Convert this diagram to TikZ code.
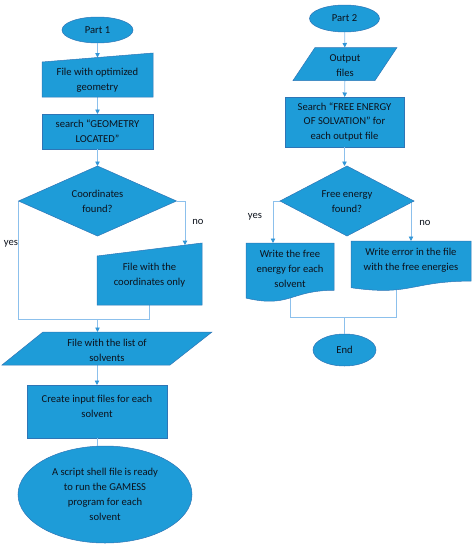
\documentclass[tikz,border=0pt]{standalone}
\usepackage{fontspec}
\setmainfont{Carlito}
\usetikzlibrary{shapes.geometric,arrows.meta,calc}
\definecolor{fillc}{RGB}{30,156,216}
\definecolor{edgec}{RGB}{46,117,182}
\definecolor{linec}{RGB}{140,192,236}
\definecolor{arrc}{RGB}{50,150,215}
\definecolor{txtc}{RGB}{12,18,28}
\begin{document}
\begin{tikzpicture}[x=1pt,y=-1pt,
  shp/.style={fill=fillc,draw=edgec,line width=0.5pt},
  txt/.style={font=\fontsize{10.6}{14.8}\selectfont,text=txtc,align=center,inner sep=0pt},
  ell/.style={shp,ellipse,inner sep=0pt,outer sep=0pt,txt},
  rbox/.style={shp,rectangle,inner sep=0pt,outer sep=0pt,txt},
  hold/.style={rectangle,inner sep=0pt,outer sep=0pt},
  conn/.style={draw=linec,line width=0.8pt},
  arr/.style={conn,-{Triangle[length=4.5pt,width=4.5pt,color=arrc]}},
  lbl/.style={font=\fontsize{10.6}{12}\selectfont,text=txtc,inner sep=0pt}]
\useasboundingbox (0,0) rectangle (474,547);

% ---------- left column: shapes (placeholders and filled nodes)
\node[ell,minimum width=71pt,minimum height=26pt] (p1) at (97.5,30) {Part 1};
\node[hold,minimum width=111pt,minimum height=44pt] (fog) at (97.5,75) {};
\node[rbox,minimum width=111pt,minimum height=35pt] (s1) at (97.5,131.5) {search “GEOMETRY\\LOCATED”};
\node[hold,minimum width=158pt,minimum height=70pt] (cf) at (97.5,201) {};
\node[hold,minimum width=105pt,minimum height=62pt] (fc) at (149.5,274) {};
\node[hold,minimum width=210pt,minimum height=33pt] (solv) at (107,348.5) {};
\node[rbox,minimum width=140pt,minimum height=53pt] (cr) at (97,411.5) {};
\node[ell,minimum width=174pt,minimum height=97pt] (sc) at (105,494.5) {A script shell file is ready\\to run the GAMESS\\program for each\\solvent};

% ---------- right column
\node[ell,minimum width=70pt,minimum height=27pt] (p2) at (344.5,18.5) {Part 2};
\node[hold,minimum width=104pt,minimum height=33pt] (of) at (345,64) {};
\node[rbox,minimum width=119pt,minimum height=50pt] (s2) at (344.5,122) {Search “FREE ENERGY\\OF SOLVATION” for\\each output file};
\node[hold,minimum width=134pt,minimum height=70pt] (fe) at (347,201) {};
\node[hold,minimum width=88pt,minimum height=59pt] (d1) at (290,272.5) {};
\node[hold,minimum width=120pt,minimum height=50pt] (d2) at (411,266) {};
\node[ell,minimum width=63pt,minimum height=32pt] (end) at (344.5,350) {End};

% ---------- helper coordinates
\coordinate (fognw) at ($(fog.north west)+(0,9)$);
\coordinate (fogtop) at ($(fognw)!0.5!(fog.north east)$);
\coordinate (fcnw) at ($(fc.north west)+(0,13)$);
\coordinate (fcin) at ($(fcnw)!0.838!(fc.north east)$);
\coordinate (m1) at (97.5,319);
\coordinate (j2) at (344.5,317);

% ---------- connectors (left)
\draw[arr] (p1) -- (fogtop);
\draw[arr] (fog) -- (s1);
\draw[arr] (s1) -- (cf);
\draw[arr] (cf.east) -| (fcin);
\draw[conn] (cf.west) |- (m1);
\draw[conn] (fc.south) |- (m1);
\draw[arr] (m1) -- (m1 |- solv.north);
\draw[arr] (cr.north |- solv.south) -- (cr.north);
\draw[conn] (cr.south) -- (cr.south |- sc.north);

% ---------- connectors (right)
\draw[arr] (p2) -- (of);
\draw[arr] (of) -- (s2);
\draw[arr] (s2.south) -- (s2.south |- fe.north);
\draw[arr] (fe.west) -| ([xshift=-17pt]d1.north);
\draw[arr] (fe.east) -| (d2.north);
\draw[conn] (d1.center) |- (j2);
\draw[conn] ([xshift=-15pt]d2.center) |- (j2);
\draw[conn] (j2) -- (end);

% ---------- shape outlines
\path[shp] (fognw) -- (fog.north east) -- (fog.south east) -- (fog.south west) -- cycle;
\path[shp] (cf.north) -- (cf.east) -- (cf.south) -- (cf.west) -- cycle;
\path[shp] (fcnw) -- (fc.north east) -- (fc.south east) -- (fc.south west) -- cycle;
\path[shp] ($(solv.north west)+(41,0)$) -- (solv.north east) -- ($(solv.south east)+(-42,0)$) -- (solv.south west) -- cycle;
\path[shp] ($(of.north west)+(22,0)$) -- (of.north east) -- ($(of.south east)+(-22,0)$) -- (of.south west) -- cycle;
\path[shp] (fe.north) -- (fe.east) -- (fe.south) -- (fe.west) -- cycle;
\path[shp] (d1.north west) -- (d1.north east) -- ($(d1.north east)+(0,47.3)$)
  .. controls ($(d1.north west)+(44,47.3)$) and ($(d1.north west)+(44,65.3)$) .. ($(d1.north west)+(0,55.1)$) -- cycle;
\path[shp] (d2.north west) -- (d2.north east) -- ($(d2.north east)+(0,40.1)$)
  .. controls ($(d2.north west)+(60,40.1)$) and ($(d2.north west)+(60,55.4)$) .. ($(d2.north west)+(0,46.7)$) -- cycle;

% ---------- texts
\node[txt] (fogt) at (97.5,80.5) {File with optimized\\geometry};
\node[txt] (cft) at (97.5,201.5) {Coordinates\\found?};
\node[txt] (fct) at (149.5,275) {File with the\\coordinates only};
\node[txt] (solvt) at (107,350.5) {File with the list of\\solvents};
\node[txt] (crt) at (97,406) {Create input files for each\\solvent};
\node[txt] (oft) at (345,65.5) {Output\\files};
\node[txt] (fet) at (347,202) {Free energy\\found?};
\node[txt] (d1t) at (290,269) {Write the free\\energy for each\\solvent};
\node[txt] (d2t) at (411,260) {Write error in the file\\with the free energies};

% ---------- branch labels
\node[lbl] (nol) at (198,222) {no};
\node[lbl] (yesl) at (11,244) {yes};
\node[lbl] (yesr) at (255,217) {yes};
\node[lbl] (nor) at (425,223) {no};
\end{tikzpicture}
\end{document}
